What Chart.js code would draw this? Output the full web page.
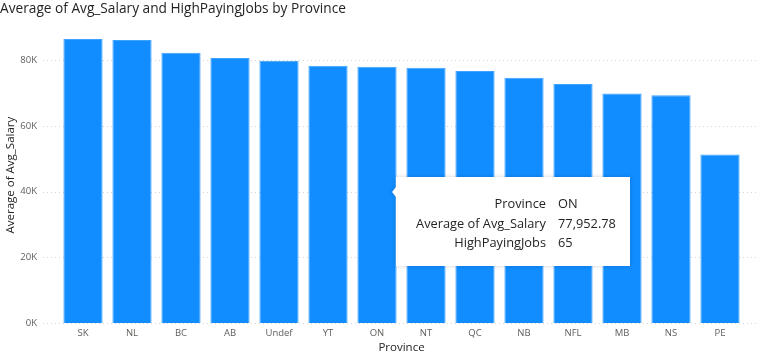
<!DOCTYPE html>
<html>
<head>
<meta charset="utf-8">
<script src="https://cdn.jsdelivr.net/npm/chart.js@4/dist/chart.umd.min.js"></script>
<style>
  html, body { margin: 0; padding: 0; background: #ffffff; }
  #wrap { width: 760px; height: 356px; position: relative; }
</style>
</head>
<body>
<div id="wrap"><canvas id="c" width="760" height="356"></canvas></div>
<script>
// ---- data ----
const chartTitle = 'Average of Avg_Salary and HighPayingJobs by Province';
const provinces = ['SK', 'NL', 'BC', 'AB', 'Undef', 'YT', 'ON', 'NT', 'QC', 'NB', 'NFL', 'MB', 'NS', 'PE'];
const avgSalary = [86400, 86100, 82200, 80600, 79800, 78300, 77952.78, 77700, 76700, 74600, 72700, 69800, 69300, 51300];
const highPayingJobs = [null, null, null, null, null, null, 65, null, null, null, null, null, null, null];
const yTickValues = [0, 20000, 40000, 60000, 80000];
const yTickLabels = ['0K', '20K', '40K', '60K', '80K'];
const xAxisTitle = 'Province';
const yAxisTitle = 'Average of Avg_Salary';
const tooltipIndex = 6;

const FONT = "'Segoe UI', 'Open Sans', 'Noto Sans', sans-serif";

// dotted horizontal grid drawn from the y scale ticks
const gridPlugin = {
  id: 'dottedGrid',
  beforeDatasetsDraw(chart) {
    const ctx = chart.ctx, y = chart.scales.y;
    ctx.save();
    ctx.strokeStyle = '#d4d2d0';
    ctx.lineWidth = 1;
    ctx.setLineDash([1, 3]);
    yTickValues.forEach(v => {
      const py = Math.round(y.getPixelForValue(v)) + 0.5;
      ctx.beginPath();
      ctx.moveTo(43, py);
      ctx.lineTo(758, py);
      ctx.stroke();
    });
    ctx.restore();
  }
};

// Power BI style tooltip for the hovered category
const tipPlugin = {
  id: 'pbiTip',
  afterDraw(chart) {
    const ctx = chart.ctx;
    const bar = chart.getDatasetMeta(0).data[tooltipIndex];
    const left = Math.round(bar.x + bar.width / 2) - 1;
    const top = 177, w = 234, h = 89;
    ctx.save();
    ctx.shadowColor = 'rgba(0,0,0,0.18)';
    ctx.shadowBlur = 4;
    ctx.fillStyle = '#ffffff';
    ctx.beginPath();
    ctx.moveTo(left, top);
    ctx.lineTo(left + w, top);
    ctx.lineTo(left + w, top + h);
    ctx.lineTo(left, top + h);
    ctx.lineTo(left, 197);
    ctx.lineTo(left - 4, 192);
    ctx.lineTo(left, 187);
    ctx.closePath();
    ctx.fill();
    ctx.shadowColor = 'transparent';
    ctx.font = '12.8px ' + FONT;
    ctx.fillStyle = '#252423';
    ctx.textBaseline = 'middle';
    const rows = [
      ['Province', provinces[tooltipIndex]],
      ['Average of Avg_Salary', avgSalary[tooltipIndex].toLocaleString('en-US', {minimumFractionDigits: 2, maximumFractionDigits: 2})],
      ['HighPayingJobs', String(highPayingJobs[tooltipIndex])]
    ];
    rows.forEach((r, i) => {
      const yy = 204.5 + i * 19.5;
      ctx.textAlign = 'right';
      ctx.fillText(r[0], left + 150, yy);
      ctx.textAlign = 'left';
      ctx.fillText(r[1], left + 162, yy);
    });
    ctx.restore();
  }
};

new Chart(document.getElementById('c'), {
  type: 'bar',
  data: {
    labels: provinces,
    datasets: [{
      label: 'Average of Avg_Salary',
      data: avgSalary,
      backgroundColor: '#118DFF',
      borderColor: '#3ea2ff',
      borderWidth: 1,
      categoryPercentage: 1.0,
      barPercentage: 0.8
    }]
  },
  options: {
    responsive: false,
    devicePixelRatio: 1,
    animation: false,
    events: [],
    layout: { padding: { left: 0, right: 15.5, top: 0, bottom: 0 } },
    plugins: {
      legend: { display: false },
      tooltip: { enabled: false },
      title: {
        display: true,
        text: chartTitle,
        align: 'start',
        color: '#252423',
        font: { family: FONT, size: 13.7, weight: 'normal', lineHeight: 1.2 },
        padding: { top: 0.5, bottom: 10.2 }
      }
    },
    scales: {
      x: {
        grid: { display: false, drawTicks: false },
        border: { display: false },
        ticks: { color: '#605E5C', font: { family: FONT, size: 9.5 }, padding: 5, maxRotation: 0, autoSkip: false },
        title: { display: true, text: xAxisTitle, color: '#252423', font: { family: FONT, size: 11.5 }, padding: { top: 0, bottom: 1 } },
        afterFit(s) { s.height = 33; }
      },
      y: {
        min: 0,
        max: 90000,
        grid: { display: false, drawTicks: false },
        border: { display: false },
        afterBuildTicks(s) { s.ticks = yTickValues.map(v => ({ value: v })); },
        ticks: {
          color: '#605E5C',
          font: { family: FONT, size: 9.5 },
          padding: 21.5,
          callback(v) { const i = yTickValues.indexOf(v); return i >= 0 ? yTickLabels[i] : ''; }
        },
        title: { display: true, text: yAxisTitle, color: '#252423', font: { family: FONT, size: 11.5 }, padding: { top: 3.6, bottom: 0 } },
        afterFit(s) { s.width = 58.5; }
      }
    }
  },
  plugins: [gridPlugin, tipPlugin]
});
</script>
</body>
</html>
